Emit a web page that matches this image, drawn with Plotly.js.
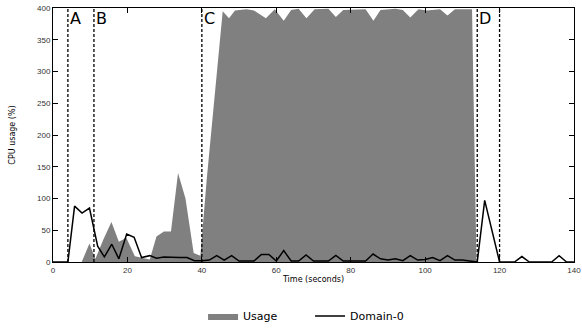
<!DOCTYPE html>
<html><head><meta charset="utf-8">
<script src="https://cdn.plot.ly/plotly-3.0.1.min.js"></script>
<style>html,body{margin:0;padding:0;background:#fff}#chart{width:582px;height:329px}</style>
</head><body><div id="chart"></div>
<script>
// Usage (filled area)
const usageTime = [0, 7.7, 9.8, 11.4, 13.5, 15.7, 17.7, 19.7, 22, 24, 26, 27.8, 29.8, 31.7, 33.6, 35.6, 37.8, 39.6, 41.3, 45.6, 47.3, 48.9, 52, 54, 57.2, 59.6, 62, 64, 66, 68.1, 70.3, 74, 76, 78, 84, 86.1, 88, 92, 94, 96, 98.2, 100.5, 102, 104, 106, 108, 112.6, 113.8, 140];
const usageVals = [0, 0, 29, 5, 35, 63, 32, 38, 9, 6, 4, 40, 48, 48, 140, 100, 14, 10, 130, 395, 384, 396, 398, 396, 384, 398, 380, 397, 399, 384, 398, 399, 386, 397, 398, 380, 397, 399, 397, 385, 398, 396, 397, 398, 388, 398, 398, 0, 0];
// Domain-0 (line)
const domTime = [0, 2, 4, 5.8, 7.8, 9.8, 12, 13.8, 15.8, 17.7, 19.8, 21.8, 23.8, 26, 27.8, 29.8, 32, 34, 36, 38, 40, 42, 44, 46, 48, 50, 52, 54, 56, 58, 60, 62, 64, 66, 68, 70, 72, 74, 76, 78, 80, 82, 84, 86, 88, 90, 92, 94, 96, 98, 100, 102, 104, 106, 108, 110, 112, 114, 116, 118, 120, 122, 124, 126, 128, 130, 132, 134, 136, 138, 140];
const domVals = [0, 0, 0, 88, 77, 85, 25, 8, 28, 5, 44, 39, 7, 10, 6, 8, 7, 7, 7, 2, 2, 3, 10, 3, 10, 1.5, 1.5, 1.5, 12, 12, 1.5, 18, 1.5, 1.5, 11, 1.5, 1.5, 1.5, 10.5, 1.5, 1.5, 1.5, 1.5, 12.5, 5, 3, 5, 2, 10, 3, 4, 7, 2, 10, 3, 3, 2, 0, 97, 48, 0, 0, 0, 8.6, 0, 0, 0, 0, 10, 0, 0];
// Phase markers
const phaseTimes = [4, 11, 40, 114, 120];
const phaseLabels = ['A', 'B', 'C', 'D'];
const phaseLabelTimes = [4, 11, 40, 114];

const traces = [
  {x: usageTime, y: usageVals, name: 'Usage', type: 'scatter', mode: 'lines',
   fill: 'tozeroy', fillcolor: '#808080', line: {color: '#808080', width: 0}},
  {x: domTime, y: domVals, name: 'Domain-0', type: 'scatter', mode: 'lines',
   line: {color: '#000000', width: 1.5}}
];

const shapes = phaseTimes.map(t => ({type: 'line', xref: 'x', yref: 'y', x0: t, x1: t, y0: 0, y1: 400,
  line: {color: '#000', width: 1.3, dash: '3px,2px'}}));
const annotations = phaseLabels.map((l, i) => ({text: l, x: phaseLabelTimes[i], xref: 'x', y: 1, yref: 'paper',
  xanchor: 'left', yanchor: 'top', showarrow: false, xshift: 0, yshift: 1,
  font: {family: 'DejaVu Sans', size: 16, color: '#000'}}));

const axisCommon = {showgrid: false, zeroline: false, showline: true, mirror: 'ticks', linecolor: '#000', linewidth: 1,
  automargin: false,
  ticks: 'inside', ticklen: 5, tickcolor: '#000', tickfont: {family: 'Liberation Sans', size: 8, color: '#333'}};

const layout = {
  width: 582, height: 329, margin: {l: 53, r: 8, t: 8, b: 67, autoexpand: false},
  paper_bgcolor: '#fff', plot_bgcolor: '#fff',
  xaxis: Object.assign({}, axisCommon, {range: [0, 140], dtick: 20, tick0: 0,
    title: {text: 'Time (seconds)', standoff: 2, font: {family: 'DejaVu Sans', size: 8, color: '#000'}}}),
  yaxis: Object.assign({}, axisCommon, {range: [0, 400], dtick: 50, tick0: 0,
    title: {text: 'CPU usage (%)', standoff: 20, font: {family: 'DejaVu Sans', size: 8, color: '#000'}}}),
  showlegend: true,
  legend: {orientation: 'h', x: 0.288, xanchor: 'left', y: -0.213, yanchor: 'middle',
    font: {family: 'DejaVu Sans', size: 11, color: '#000'}, itemwidth: 30, entrywidth: 62, entrywidthmode: 'pixels', traceorder: 'normal'},
  shapes: shapes, annotations: annotations
};
Plotly.newPlot('chart', traces, layout, {displayModeBar: false, staticPlot: true});
</script></body></html>
